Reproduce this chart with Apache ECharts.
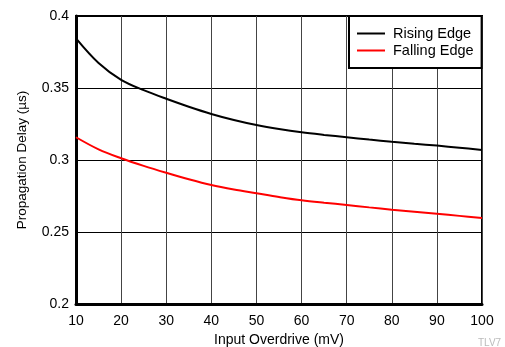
<!DOCTYPE html>
<html>
<head>
<meta charset="utf-8">
<script src="https://cdn.jsdelivr.net/npm/echarts@6/dist/echarts.min.js"></script>
<style>html,body{margin:0;padding:0;background:#fff}#c{width:505px;height:347px}</style>
</head>
<body>
<div id="c"></div>
<script>
const overdrive = [10, 15, 20, 25, 30, 35, 40, 45, 50, 55, 60, 65, 70, 75, 80, 85, 90, 95, 100];
const rising = [0.3845, 0.3674, 0.3557, 0.3485, 0.3425, 0.3370, 0.3320, 0.3278, 0.3243, 0.3215, 0.3192, 0.3174, 0.3158, 0.3142, 0.3127, 0.3113, 0.3100, 0.3085, 0.3070];
const falling = [0.3158, 0.3074, 0.3012, 0.2959, 0.2911, 0.2866, 0.2826, 0.2795, 0.2769, 0.2743, 0.2720, 0.2703, 0.2688, 0.2671, 0.2655, 0.2641, 0.2627, 0.2612, 0.2597];
const seriesNames = ['Rising Edge', 'Falling Edge'];
const xTitle = 'Input Overdrive (mV)';
const yTitle = 'Propagation Delay (µs)';

const chart = echarts.init(document.getElementById('c'), null, {renderer: 'canvas'});
const font = 'Liberation Sans, Arial, sans-serif';
chart.setOption({
  animation: false,
  grid: {left: 76, right: 23, top: 16, bottom: 43, containLabel: false, outerBoundsMode: 'none', show: true, borderColor: '#000', borderWidth: 2, backgroundColor: 'transparent'},
  xAxis: {
    type: 'value', min: 10, max: 100, interval: 10,
    name: xTitle, nameLocation: 'middle', nameGap: 26,
    nameTextStyle: {fontFamily: font, fontSize: 14, color: '#000'},
    axisLine: {show: true, onZero: false, lineStyle: {color: '#000', width: 3}},
    axisTick: {show: false},
    axisLabel: {fontFamily: font, fontSize: 14, color: '#000', margin: 10},
    splitLine: {show: true, lineStyle: {color: '#444', width: 1}}
  },
  yAxis: {
    type: 'value', min: 0.2, max: 0.4, interval: 0.05,
    name: yTitle, nameLocation: 'middle', nameGap: 47,
    nameTextStyle: {fontFamily: font, fontSize: 13.5, color: '#000'},
    axisLine: {show: true, onZero: false, lineStyle: {color: '#000', width: 3}},
    axisTick: {show: false},
    axisLabel: {fontFamily: font, fontSize: 14, color: '#000', margin: 7},
    splitLine: {show: true, lineStyle: {color: '#000', width: 1}}
  },
  legend: {
    orient: 'vertical', left: 349, top: 16,
    backgroundColor: '#fff', borderColor: '#000', borderWidth: 2,
    padding: [10, 8, 10, 8], itemGap: 2, itemWidth: 28, itemHeight: 2, icon: 'rect',
    textStyle: {fontFamily: font, fontSize: 14.5, color: '#000', padding: [0, 0, 0, 3]},
    data: seriesNames
  },
  graphic: [{type: 'text', left: 478, top: 338, style: {text: 'TLV7', fontFamily: font, fontSize: 10, fill: '#bbb'}}],
  series: [
    {name: seriesNames[0], type: 'line', smooth: 0.35, showSymbol: false, lineStyle: {color: '#000', width: 2}, itemStyle: {color: '#000'},
     data: overdrive.map((x, i) => [x, rising[i]])},
    {name: seriesNames[1], type: 'line', smooth: 0.35, showSymbol: false, lineStyle: {color: '#ff0000', width: 2}, itemStyle: {color: '#ff0000'},
     data: overdrive.map((x, i) => [x, falling[i]])}
  ]
});
</script>
</body>
</html>
